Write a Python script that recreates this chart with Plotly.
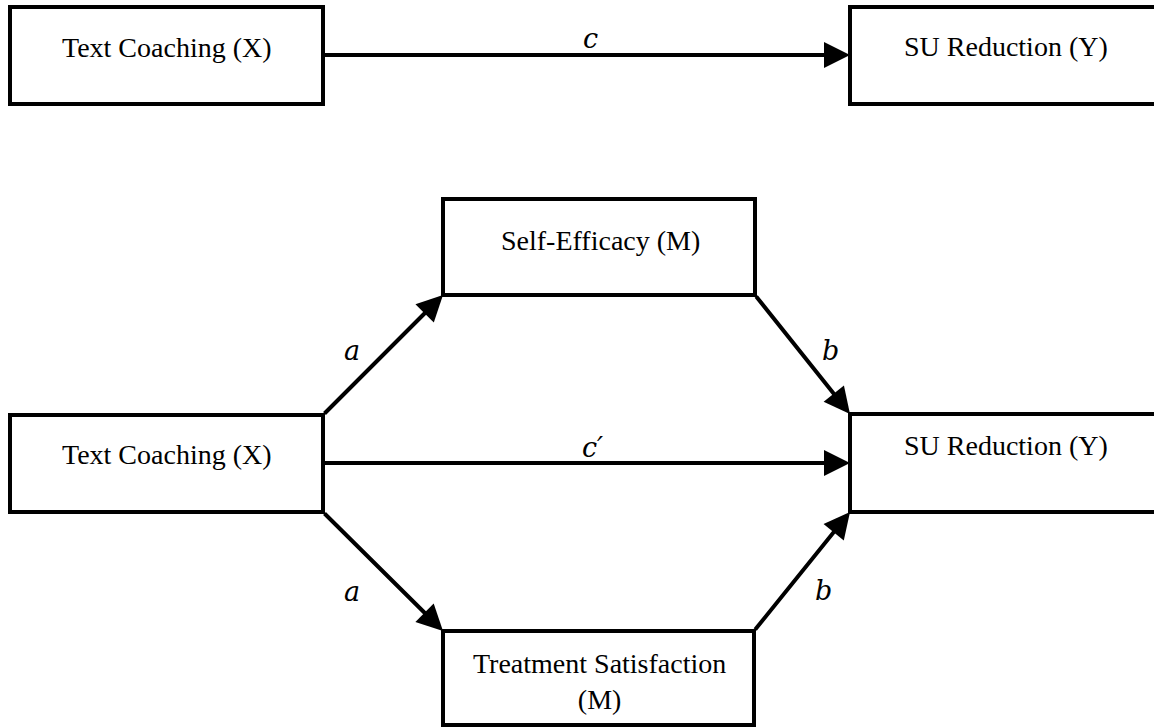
import plotly.graph_objects as go

# ---- content ----
node_names = ["X_top", "Y_top", "M1", "X_bot", "Y_bot", "M2"]
node_labels = ["Text Coaching (X)", "SU Reduction (Y)", "Self-Efficacy (M)",
               "Text Coaching (X)", "SU Reduction (Y)", "Treatment Satisfaction<br>(M)"]
path_labels = ["c", "a", "b", "c′", "a", "b"]

# ---- layout geometry (pixels, y downward) ----
W, H = 1154, 727
boxes = {
    "X_top": (10, 7, 323, 104),
    "Y_top": (850, 7, 1165, 104),
    "M1":    (443, 199, 755, 295),
    "X_bot": (10, 415, 323, 512),
    "Y_bot": (850, 414, 1165, 512),
    "M2":    (443, 631, 754, 725),
}
label_pos = {
    "X_top": (167, 47), "Y_top": (1006, 46), "M1": (600, 240),
    "X_bot": (167, 454), "Y_bot": (1006, 445), "M2": (599, 681),
}
arrows = [  # (from x, from y, to x, to y)
    (323, 55, 850, 55),
    (323, 415, 443, 295),
    (755, 295, 850, 414),
    (323, 463, 850, 463),
    (323, 512, 443, 631),
    (754, 631, 850, 512),
]
path_label_pos = [(590, 38), (352, 350), (830, 350), (592, 447), (352, 591), (823, 590)]

fig = go.Figure()
shapes = []
for n in node_names:
    x0, y0, x1, y1 = boxes[n]
    shapes.append(dict(type="rect", xref="x", yref="y", x0=x0, y0=y0, x1=x1, y1=y1,
                       line=dict(color="black", width=4), fillcolor="white", layer="below"))

annotations = []
for (fx, fy, tx, ty) in arrows:
    annotations.append(dict(x=tx, y=ty, ax=fx, ay=fy, xref="x", yref="y", axref="x", ayref="y",
                            text="", showarrow=True, arrowhead=2, arrowsize=1.3,
                            arrowwidth=4, arrowcolor="black", standoff=0, startstandoff=0))
for n, lab in zip(node_names, node_labels):
    x, y = label_pos[n]
    annotations.append(dict(x=x, y=y, xref="x", yref="y", text=lab, showarrow=False,
                            font=dict(family="Liberation Serif", size=28, color="black"),
                            align="center", xanchor="center", yanchor="middle"))
for lab, (x, y) in zip(path_labels, path_label_pos):
    annotations.append(dict(x=x, y=y, xref="x", yref="y", text="<i>" + lab + "</i>",
                            showarrow=False,
                            font=dict(family="DejaVu Serif", size=27, color="black"),
                            xanchor="center", yanchor="middle"))

fig.update_layout(
    width=W, height=H, margin=dict(l=0, r=0, t=0, b=0),
    paper_bgcolor="white", plot_bgcolor="white",
    xaxis=dict(range=[0, W], visible=False, fixedrange=True),
    yaxis=dict(range=[H, 0], visible=False, fixedrange=True),
    shapes=shapes, annotations=annotations, showlegend=False,
)
fig.write_html("out.html", config={"displayModeBar": False},
               post_script="document.body.style.margin='0px';document.body.style.overflow='hidden';")
